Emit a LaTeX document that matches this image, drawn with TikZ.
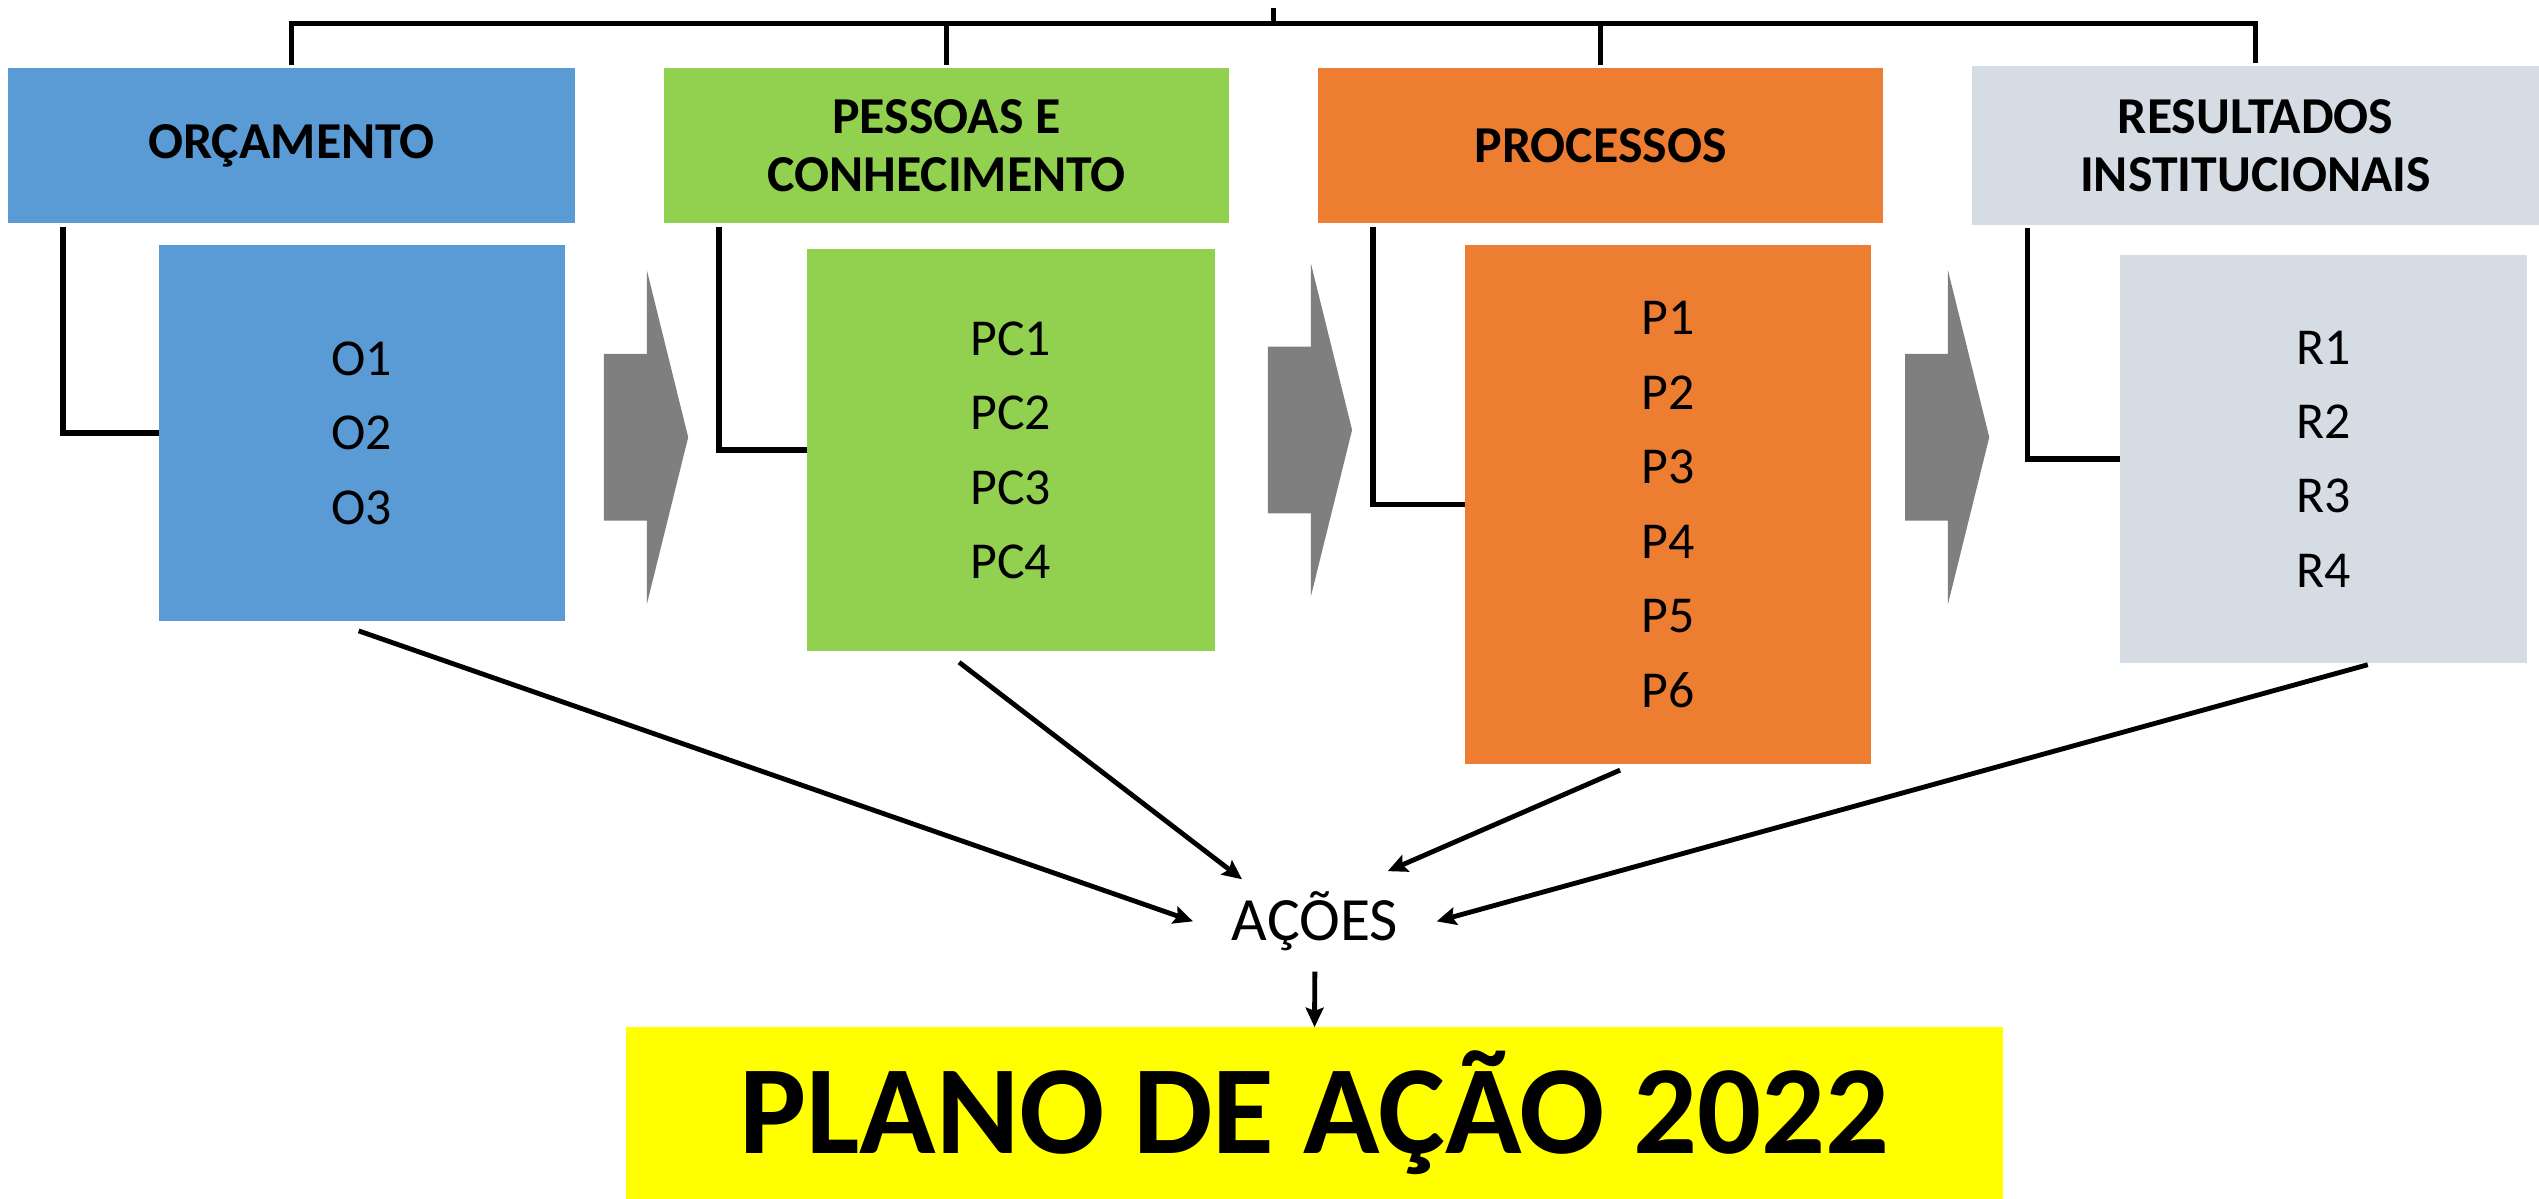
\documentclass[tikz,border=0pt]{standalone}
\usepackage{fontspec}
\setmainfont{Carlito}
\usetikzlibrary{arrows.meta}
\definecolor{orcBlue}{HTML}{5B9BD5}
\definecolor{pesGreen}{HTML}{92D050}
\definecolor{proOrange}{HTML}{ED7D31}
\definecolor{resGray}{HTML}{D6DCE4}
\definecolor{chevGray}{HTML}{7F7F7F}
\definecolor{planYellow}{HTML}{FFFF00}

\begin{document}
\begin{tikzpicture}[x=1pt, y=-1pt,
		head/.style={rectangle, anchor=north west, align=center, inner sep=0, outer sep=0, font=\fontsize{32}{36}\selectfont\bfseries},
		sub/.style={rectangle, anchor=north west, align=center, inner sep=0, outer sep=0, font=\fontsize{32}{46}\selectfont},
		bracket/.style={line width=3.5pt},
		arr/.style={line width=3pt, -{Stealth[length=12pt, width=11pt, inset=2pt]}}]
	\useasboundingbox (0,0) rectangle (1568,740);
	\node[head, fill=orcBlue, minimum width=350, minimum height=96] (hO) at (5,42) {ORÇAMENTO};
	\node[head, fill=pesGreen, minimum width=349, minimum height=96] (hPC) at (410,42) {PESSOAS E\\CONHECIMENTO};
	\node[head, fill=proOrange, minimum width=349, minimum height=96] (hP) at (814,42) {PROCESSOS};
	\node[head, fill=resGray, minimum width=350, minimum height=98] (hR) at (1218,41) {RESULTADOS\\INSTITUCIONAIS};
	\node[sub, fill=orcBlue, minimum width=251, minimum height=232] (bO) at (98,151.6) {O1\\O2\\O3};
	\node[sub, fill=pesGreen, minimum width=252, minimum height=248] (bPC) at (498.3,154) {PC1\\PC2\\PC3\\PC4};
	\node[sub, fill=proOrange, minimum width=251, minimum height=320] (bP) at (904.5,151.6) {P1\\P2\\P3\\P4\\P5\\P6};
	\node[sub, fill=resGray, minimum width=251.5, minimum height=252] (bR) at (1309,157.5) {R1\\R2\\R3\\R4};
	\node[inner sep=0, outer sep=0, minimum width=150.5, minimum height=62, font=\fontsize{38}{44}\selectfont] (acoes) at (812,569) {AÇÕES};
	\node[rectangle, anchor=north west, inner sep=0, outer sep=0, fill=planYellow, minimum width=850.4, minimum height=106, font=\fontsize{78}{90}\selectfont\bfseries] (plano) at (386.6,634.3) {PLANO DE AÇÃO 2022};
	\coordinate (top) at (786.5,5);
	\coordinate (bar) at (786.5,14.5);
	\draw[bracket] (top) -- (bar);
	\draw[bracket] ([yshift=2pt]hO.north) |- (bar) -| ([yshift=2pt]hR.north);
	\foreach \n in {PC,P}
		\draw[bracket] ([yshift=2pt]h\n.north) -- (h\n.north |- bar);
	\foreach \n in {O,PC,P,R}
		\draw[bracket] ([xshift=34pt,yshift=-2pt]h\n.south west) |- (b\n.west);
	\foreach \cx/\cy in {373/270, 783/265.5, 1176.5/270}
		\fill[chevGray] (\cx,\cy-51.5) -- ++(26.5,0) -- (\cx+26.5,\cy-103) -- (\cx+52,\cy) -- (\cx+26.5,\cy+103) -- (\cx+26.5,\cy+51.5) -- (\cx,\cy+51.5) -- cycle;
	\draw[arr] ([xshift=-2pt,yshift=-6pt]bO.south) -- (acoes.west);
	\draw[arr] ([xshift=-32pt,yshift=-7pt]bPC.south) -- ([xshift=-45pt,yshift=-5pt]acoes.north);
	\draw[arr] ([xshift=-29.5pt,yshift=-4pt]bP.south) -- ([xshift=45pt]acoes.north);
	\draw[arr] ([xshift=27.5pt,yshift=-1pt]bR.south) -- (acoes.east);
	\draw[arr] (acoes.south) -- (plano.north);
\end{tikzpicture}
\end{document}
